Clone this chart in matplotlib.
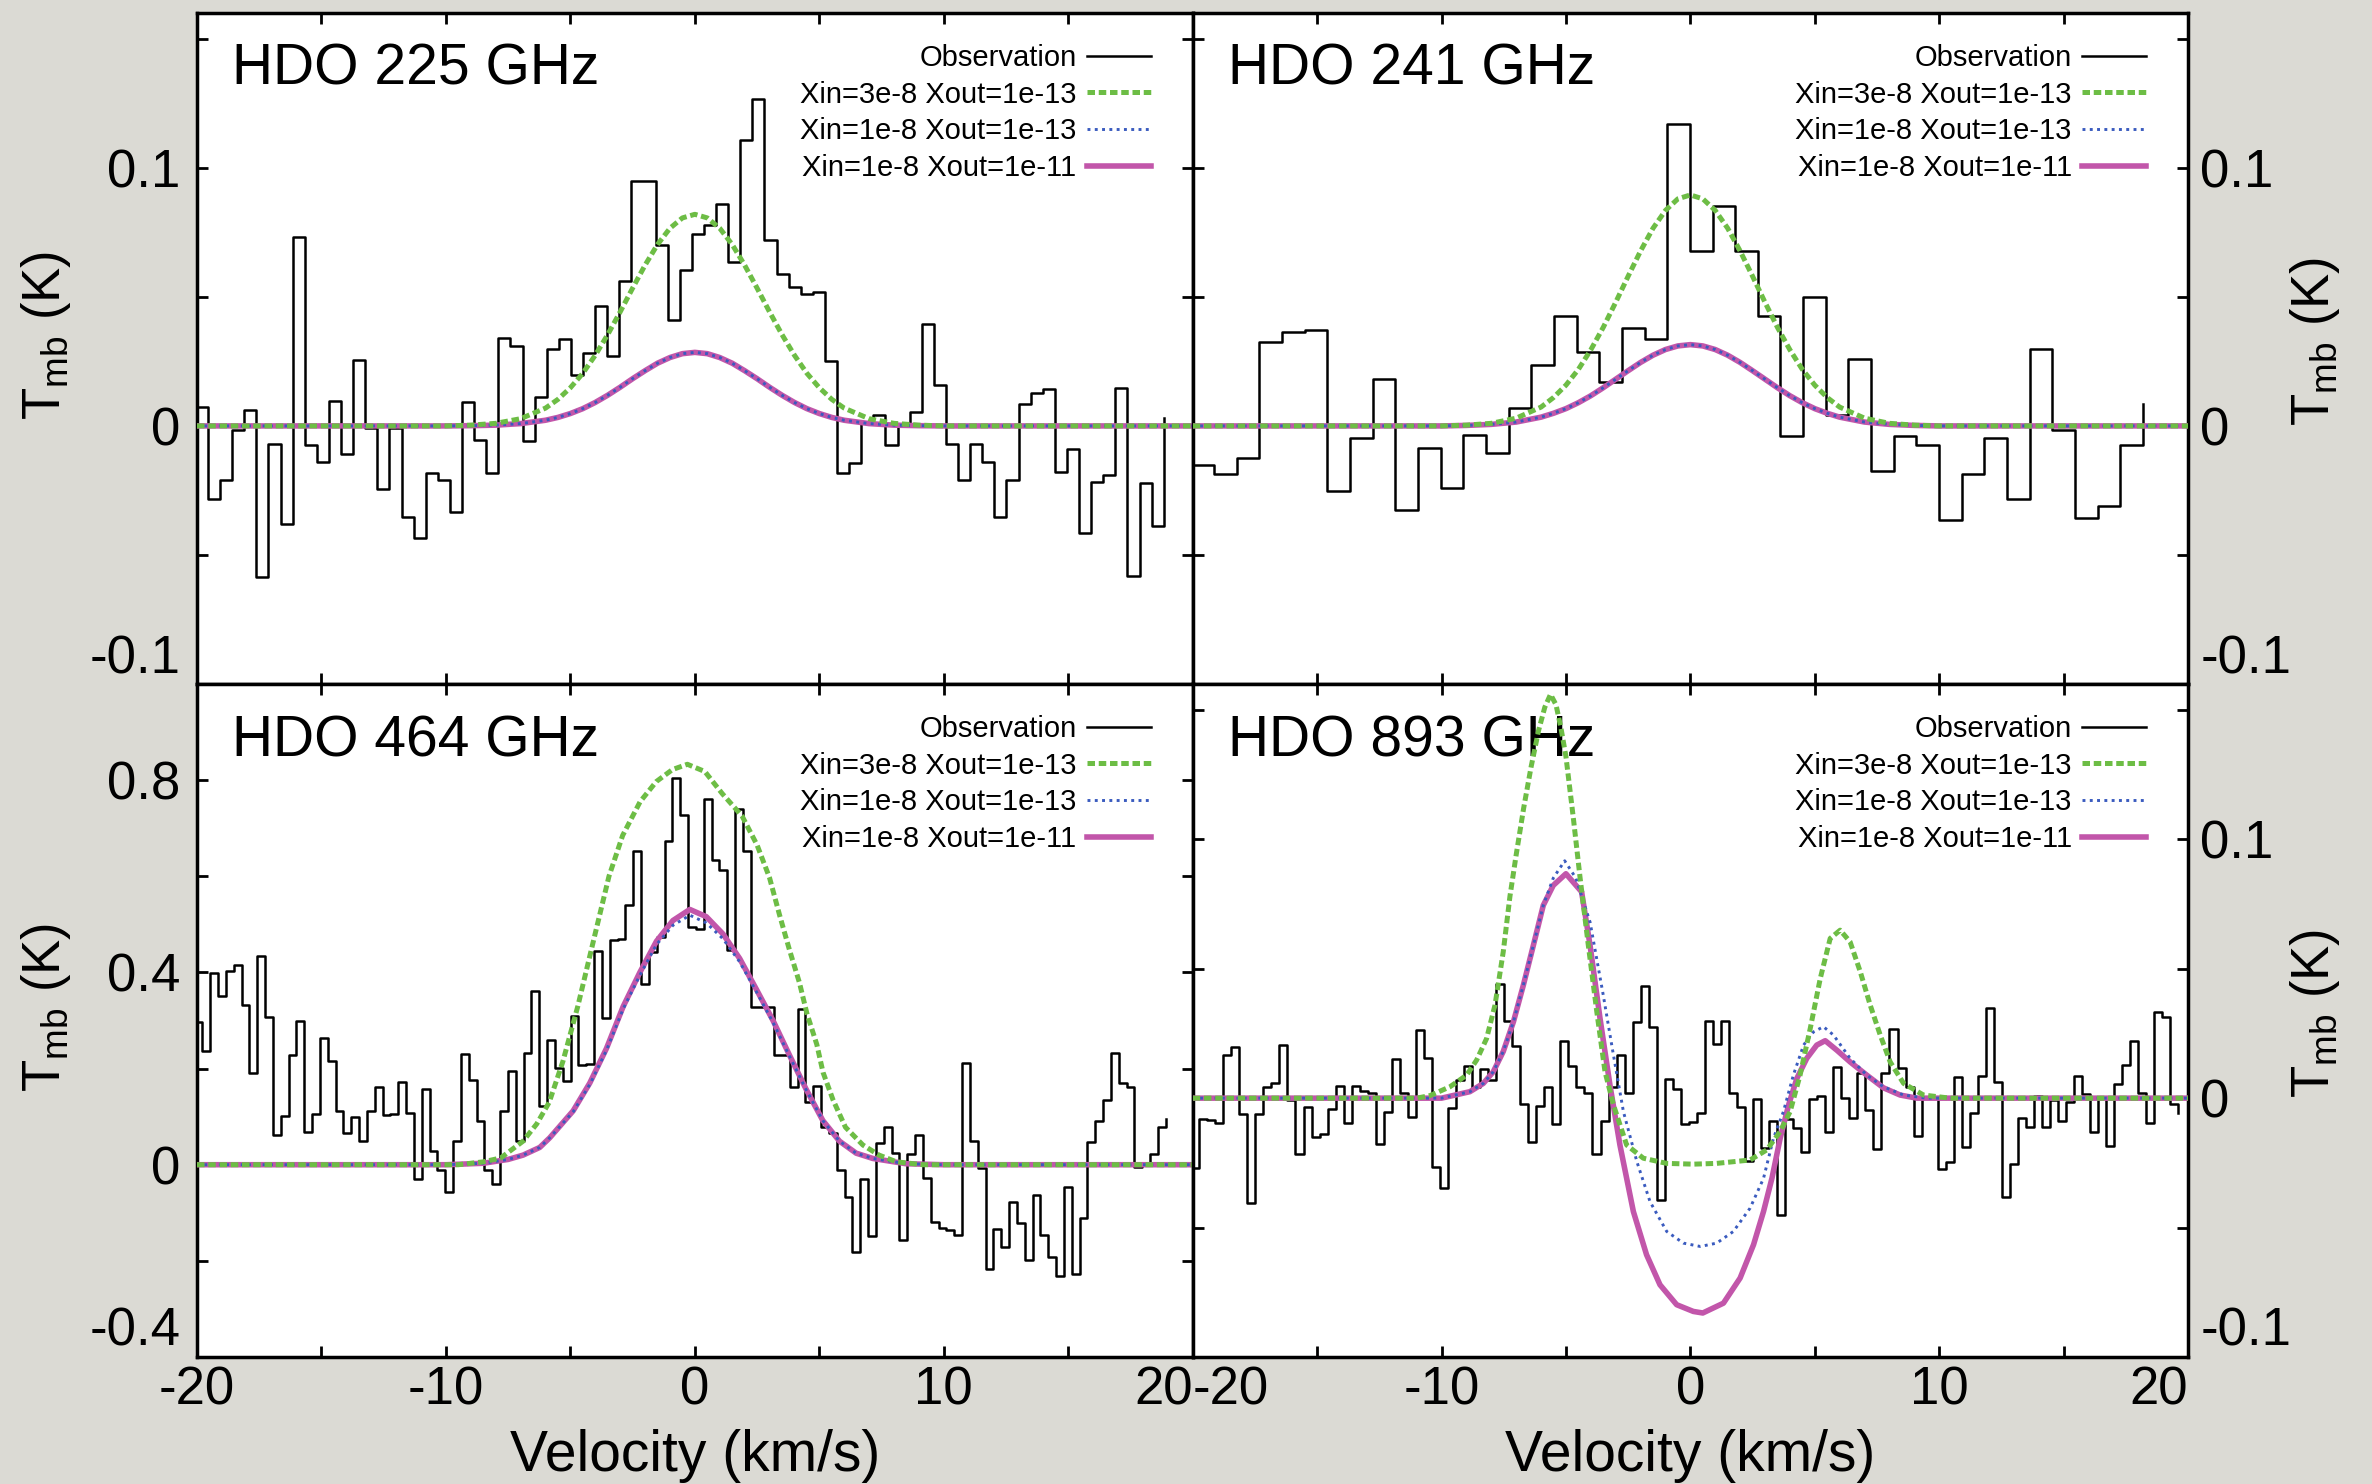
import numpy as np
import matplotlib
matplotlib.use("Agg")
import matplotlib.pyplot as plt

# fonts: Helvetica-like, plain hyphen for minus signs
plt.rcParams['font.family'] = ['Liberation Sans', 'DejaVu Sans']
plt.rcParams['mathtext.default'] = 'regular'
plt.rcParams['axes.unicode_minus'] = False

# ------------------------------------------------------------------
# observed spectra (K), one value per channel.
# the last value of each list is where the final step line ends.
# ------------------------------------------------------------------
obs_225 = [0.0074, -0.0282, -0.0210, -0.0017, 0.0061, -0.0585, -0.0069, -0.0380, 0.0731, -0.0072,
           -0.0138, 0.0097, -0.0108, 0.0257, -0.0008, -0.0243, -0.0008, -0.0352, -0.0435, -0.0183,
           -0.0209, -0.0333, 0.0094, -0.0054, -0.0183, 0.0339, 0.0309, -0.0060, 0.0114, 0.0300,
           0.0336, 0.0198, 0.0283, 0.0466, 0.0270, 0.0560, 0.0949, 0.0949, 0.0701, 0.0411,
           0.0606, 0.0743, 0.0780, 0.0858, 0.0636, 0.1108, 0.1266, 0.0721, 0.0587, 0.0540,
           0.0511, 0.0520, 0.0250, -0.0183, -0.0144, 0.0010, 0.0042, -0.0072, 0.0000, 0.0055,
           0.0394, 0.0157, -0.0069, -0.0210, -0.0069, -0.0141, -0.0352, -0.0209, 0.0085, 0.0127,
           0.0144, -0.0180, -0.0091, -0.0415, -0.0217, -0.0189, 0.0146, -0.0581, -0.0222, -0.0386,
           0.0030]

obs_241 = [-0.0153, -0.0188, -0.0124, 0.0324, 0.0363, 0.0373, -0.0252, -0.0046, 0.0182, -0.0324,
           -0.0085, -0.0239, -0.0034, -0.0106, 0.0068, 0.0235, 0.0426, 0.0285, 0.0170, 0.0380,
           0.0338, 0.1168, 0.0678, 0.0852, 0.0677, 0.0426, -0.0038, 0.0498, 0.0043, 0.0261,
           -0.0174, -0.0039, -0.0073, -0.0363, -0.0188, -0.0048, -0.0285, 0.0298, -0.0017, -0.0355,
           -0.0310, -0.0072, 0.0085]

obs_464 = [0.297, 0.236, 0.399, 0.350, 0.404, 0.415, 0.332, 0.191, 0.435, 0.307,
           0.061, 0.101, 0.228, 0.298, 0.069, 0.106, 0.264, 0.215, 0.112, 0.065,
           0.099, 0.049, 0.112, 0.162, 0.103, 0.106, 0.173, 0.108, -0.030, 0.158,
           0.029, -0.011, -0.057, 0.050, 0.230, 0.176, 0.090, -0.011, -0.041, 0.112,
           0.194, 0.049, 0.232, 0.361, 0.122, 0.259, 0.202, 0.175, 0.309, 0.208,
           0.210, 0.444, 0.306, 0.467, 0.469, 0.541, 0.653, 0.376, 0.442, 0.473,
           0.674, 0.805, 0.727, 0.494, 0.490, 0.760, 0.633, 0.614, 0.447, 0.740,
           0.652, 0.329, 0.328, 0.328, 0.228, 0.228, 0.162, 0.323, 0.131, 0.164,
           0.078, 0.067, -0.011, -0.068, -0.182, -0.030, -0.149, 0.045, 0.078, 0.025,
           -0.157, 0.022, 0.061, -0.028, -0.120, -0.131, -0.136, -0.147, 0.212, 0.050,
           -0.007, -0.217, -0.134, -0.172, -0.077, -0.121, -0.199, -0.062, -0.147, -0.191,
           -0.232, -0.047, -0.227, -0.111, 0.047, 0.090, 0.134, 0.233, 0.169, 0.162,
           -0.005, 0.002, 0.022, 0.078,
           0.096]

obs_893 = [-0.0271, -0.0080, -0.0084, -0.0097, 0.0166, 0.0199, -0.0061, -0.0406, -0.0061, 0.0044,
           0.0057, 0.0205, -0.0007, -0.0217, -0.0036, -0.0149, -0.0138, -0.0043, 0.0047, -0.0095,
           0.0047, 0.0029, 0.0019, -0.0178, -0.0052, 0.0151, 0.0019, -0.0074, 0.0265, 0.0154,
           -0.0267, -0.0348, -0.0039, 0.0070, 0.0125, 0.0044, 0.0111, 0.0070, 0.0440, 0.0298,
           0.0202, -0.0023, -0.0168, -0.0030, 0.0044, -0.0100, 0.0222, 0.0125, 0.0044, 0.0021,
           -0.0217, -0.0087, 0.0042, 0.0166, 0.0021, 0.0295, 0.0432, 0.0273, -0.0393, 0.0073,
           0.0034, -0.0100, -0.0091, -0.0056, 0.0298, 0.0211, 0.0298, 0.0019, -0.0033, -0.0243,
           -0.0005, -0.0191, -0.0088, -0.0451, -0.0082, -0.0114, -0.0209, -0.0005, 0.0010, -0.0129,
           0.0119, -0.0001, -0.0078, 0.0098, -0.0046, -0.0196, 0.0098, 0.0267, 0.0117, 0.0042,
           -0.0148, -0.0001, -0.0001, -0.0275, -0.0245, 0.0083, -0.0187, -0.0056, 0.0087, 0.0350,
           0.0061, -0.0383, -0.0256, -0.0078, -0.0110, 0.0008, -0.0112, -0.0007, -0.0088, -0.0016,
           0.0085, 0.0015, -0.0132, 0.0003, -0.0183, 0.0053, 0.0128, 0.0220, 0.0021, -0.0097,
           0.0331, 0.0314, -0.0024,
           -0.0059]

# channel grid of each spectrum: (left edge of first full channel, channel width) in km/s
chan_225 = (-19.558, 0.486)
chan_241 = (-19.14, 0.9105)
chan_464 = (-19.78, 0.3146)
chan_893 = (-19.74, 0.3226)

# ------------------------------------------------------------------
# model spectra
# ------------------------------------------------------------------
v_model = [-20, -10, -9, -8, -7, -6, -5.5, -5, -4.5, -4, -3.5, -3, -2.5, -2, -1.5, -1, -0.5, 0,
           0.5, 1, 1.5, 2, 2.5, 3, 3.5, 4, 4.5, 5, 5.5, 6, 7, 8, 9, 10, 20]

green_225 = [0, 0, 0.0003, 0.001, 0.0028, 0.0069, 0.0103, 0.0148, 0.0204, 0.0274, 0.0354, 0.0442,
             0.0534, 0.0623, 0.0703, 0.0766, 0.0806, 0.082, 0.0806, 0.0766, 0.0703, 0.0623, 0.0534,
             0.0442, 0.0354, 0.0274, 0.0204, 0.0148, 0.0103, 0.0069, 0.0028, 0.001, 0.0003, 0, 0]
magenta_225 = [0, 0, 0.0001, 0.0003, 0.0009, 0.0022, 0.0033, 0.0048, 0.0067, 0.0091, 0.0119, 0.0150,
               0.0183, 0.0214, 0.0243, 0.0265, 0.0280, 0.0285, 0.0280, 0.0265, 0.0243, 0.0214, 0.0183,
               0.0150, 0.0119, 0.0091, 0.0067, 0.0048, 0.0033, 0.0022, 0.0009, 0.0003, 0.0001, 0, 0]
blue_225 = list(magenta_225)   # dotted model lies on top of the solid one

green_241 = [0, 0, 0.0003, 0.001, 0.003, 0.0073, 0.011, 0.0158, 0.0219, 0.0295, 0.0382, 0.0479,
             0.058, 0.0678, 0.0766, 0.0835, 0.088, 0.0895, 0.088, 0.0835, 0.0766, 0.0678, 0.058,
             0.0479, 0.0382, 0.0295, 0.0219, 0.0158, 0.011, 0.0073, 0.003, 0.001, 0.0003, 0, 0]
magenta_241 = [0, 0, 0.0002, 0.0006, 0.0015, 0.0034, 0.0049, 0.0067, 0.0090, 0.0117, 0.0148, 0.0181,
               0.0214, 0.0246, 0.0274, 0.0296, 0.0310, 0.0315, 0.0310, 0.0296, 0.0274, 0.0246, 0.0214,
               0.0181, 0.0148, 0.0117, 0.0090, 0.0067, 0.0049, 0.0034, 0.0015, 0.0006, 0.0002, 0, 0]
blue_241 = list(magenta_241)

v_green_464 = [-20, -9.5, -8.5, -7.8, -6.9, -6.35, -5.85, -5.3, -4.7, -4.1, -3.45, -2.9, -2.2, -1.55,
               -0.9, -0.3, 0.4, 1.1, 1.9, 2.5, 3.0, 3.4, 3.8, 4.2, 4.5, 4.9, 5.15, 5.55, 6.05, 6.75,
               7.4, 8.1, 9.15, 20]
green_464 = [0, 0, 0.006, 0.014, 0.049, 0.085, 0.13, 0.215, 0.33, 0.46, 0.6, 0.685, 0.755, 0.797,
             0.822, 0.833, 0.818, 0.772, 0.725, 0.665, 0.597, 0.52, 0.447, 0.379, 0.315, 0.25, 0.192,
             0.135, 0.078, 0.041, 0.02, 0.006, 0, 0]
v_mod_464 = [-20, -10, -8.5, -7.5, -6.9, -6.23, -5.83, -4.89, -4.22, -3.55, -2.88, -2.21, -1.54, -0.88,
             -0.2, 0.46, 1.13, 1.8, 2.47, 3.14, 3.8, 4.47, 5.14, 5.81, 6.48, 7.15, 8.49, 10, 20]
magenta_464 = [0, 0, 0.003, 0.011, 0.020, 0.036, 0.056, 0.112, 0.170, 0.242, 0.329, 0.400, 0.465, 0.508,
               0.531, 0.516, 0.480, 0.429, 0.365, 0.300, 0.228, 0.157, 0.092, 0.049, 0.024, 0.013, 0.002, 0, 0]
blue_464 = [0, 0, 0.003, 0.011, 0.020, 0.036, 0.056, 0.110, 0.167, 0.238, 0.324, 0.394, 0.458, 0.498,
            0.519, 0.503, 0.470, 0.422, 0.360, 0.296, 0.226, 0.156, 0.092, 0.049, 0.024, 0.013, 0.002, 0, 0]

v_green_893 = [-20, -11, -10.46, -9.66, -8.99, -8.59, -8.19, -7.85, -7.52, -7.25, -7.0, -6.7, -6.4, -6.1,
               -5.85, -5.62, -5.4, -5.2, -5.0, -4.7, -4.43, -4.1, -3.76, -3.43, -3.09, -2.56, -1.89, -0.95,
               0.12, 1.06, 2.4, 3.07, 3.61, 4.01, 4.41, 4.82, 5.22, 5.62, 6.02, 6.42, 6.83, 7.23, 7.63,
               8.03, 8.57, 9.37, 10.44, 20]
green_893 = [0, 0, 0.001, 0.0044, 0.0089, 0.0147, 0.023, 0.036, 0.0565, 0.078, 0.094, 0.112, 0.128, 0.142,
             0.151, 0.156, 0.152, 0.143, 0.132, 0.108, 0.085, 0.059, 0.0334, 0.0102, -0.0026, -0.0181,
             -0.0232, -0.0252, -0.0255, -0.0252, -0.0239, -0.020, -0.0129, -0.0052, 0.0089, 0.027, 0.0462,
             0.0617, 0.0649, 0.0604, 0.0488, 0.0359, 0.0244, 0.014, 0.0057, 0.0012, 0, 0]
v_blue_893 = [-20, -10, -8.86, -8.32, -7.92, -7.52, -7.11, -6.71, -6.31, -5.91, -5.51, -5.05, -4.6, -4.03,
              -3.5, -3.09, -2.69, -2.15, -1.62, -0.95, -0.28, 0.4, 1.06, 1.73, 2.4, 2.94, 3.34, 3.74, 4.14,
              4.55, 4.95, 5.35, 5.75, 6.42, 7.09, 7.76, 8.57, 9.5, 20]
blue_893 = [0, 0, 0.0025, 0.0057, 0.0102, 0.018, 0.0295, 0.0437, 0.059, 0.0745, 0.085, 0.0917, 0.085, 0.068,
            0.0398, 0.0166, -0.0052, -0.0245, -0.040, -0.0515, -0.056, -0.0573, -0.056, -0.0515, -0.0425,
            -0.031, -0.0155, -0.0052, 0.0089, 0.0205, 0.0256, 0.0276, 0.0244, 0.0154, 0.0089, 0.0044,
            0.0012, 0, 0]
v_magenta_893 = [-20, -10, -8.86, -8.32, -7.92, -7.52, -7.11, -6.71, -6.31, -5.91, -5.51, -5.0, -4.37, -4.03,
                 -3.63, -3.23, -2.83, -2.29, -1.76, -1.22, -0.55, 0.12, 0.5, 1.33, 2.0, 2.54, 2.94, 3.28,
                 3.61, 3.95, 4.28, 4.68, 5.08, 5.42, 5.89, 6.42, 7.09, 7.76, 8.43, 9.1, 20]
magenta_893 = [0, 0, 0.0025, 0.0057, 0.0102, 0.018, 0.0295, 0.0437, 0.059, 0.0745, 0.0822, 0.0867, 0.0797,
               0.059, 0.0308, 0.005, -0.0181, -0.0438, -0.0605, -0.0721, -0.0798, -0.0824, -0.083, -0.0792,
               -0.0695, -0.0566, -0.0438, -0.0309, -0.0155, -0.0026, 0.0076, 0.0154, 0.0205, 0.0222, 0.0185,
               0.014, 0.0089, 0.004, 0.0012, 0, 0]

legend_labels = ['Observation', 'Xin=3e-8 Xout=1e-13', 'Xin=1e-8 Xout=1e-13', 'Xin=1e-8 Xout=1e-11']

GREEN = '#6dbd45'
BLUE = '#3a5bbf'
MAGENTA = '#c256aa'


def draw_panel(ax, title, chan, obs, green, blue, magenta, ylim, yticks, ylabels, side, show_x):
    # channel left edges; first one falls just outside -20
    vel = chan[0] + chan[1] * (np.arange(len(obs)) - 1)
    h_obs, = ax.step(vel, obs, where='post', color='black', lw=1.8, zorder=2)
    h_mag, = ax.plot(magenta[0], magenta[1], color=MAGENTA, lw=4.0, zorder=3)
    h_blue, = ax.plot(blue[0], blue[1], color=BLUE, lw=2.1, ls=(0, (1.0, 1.5)), zorder=4)
    h_green, = ax.plot(green[0], green[1], color=GREEN, lw=3.6, ls=(0, (1.5, 0.75)), zorder=5)

    ax.set_xlim(-20, 20)
    ax.set_ylim(*ylim)
    ax.set_xticks(np.arange(-20, 21, 5))
    ax.set_xticklabels(['-20', '', '-10', '', '0', '', '10', '', '20'])
    ax.set_yticks(yticks)
    ax.set_yticklabels(ylabels)

    ax.tick_params(direction='in', length=8, width=2, top=True, bottom=True,
                   left=True, right=True, labelsize=38)
    ax.tick_params(axis='x', pad=6, labelbottom=show_x)
    if side == 'left':
        ax.tick_params(axis='y', pad=12, labelleft=True, labelright=False)
    else:
        ax.tick_params(axis='y', pad=9, labelleft=False, labelright=True)
    for s in ax.spines.values():
        s.set_linewidth(2.5)

    # lowest y label sits above the bottom border
    ax.get_yticklabels()[0].set_verticalalignment('bottom')
    if show_x:
        xl = ax.get_xticklabels()
        if side == 'left':
            xl[-1].set_horizontalalignment('right')
        else:
            xl[0].set_horizontalalignment('left')
            xl[-1].set_horizontalalignment('right')
        ax.set_xlabel('Velocity (km/s)', fontsize=41)
        ax.xaxis.set_label_coords(0.5, -0.107)

    ax.set_ylabel(r'T$_{mb}$ (K)', fontsize=38)
    if side == 'left':
        ax.yaxis.set_label_coords(-0.125, 0.52)
    else:
        ax.yaxis.set_label_position('right')
        ax.yaxis.set_label_coords(1.10, 0.51)

    ax.text(0.035, 0.893, title, transform=ax.transAxes, fontsize=41, va='baseline')
    ax.legend([h_obs, h_green, h_blue, h_mag], legend_labels, loc='upper right',
              bbox_to_anchor=(0.958, 0.954), frameon=False, markerfirst=False, fontsize=21,
              handlelength=2.2, handletextpad=0.35, labelspacing=0.3, borderpad=0,
              borderaxespad=0)


fig = plt.figure(figsize=(23.72, 14.84), dpi=100, facecolor='#dbdad4')

L, M, R = 197 / 2372, 1192.7 / 2372, 2188 / 2372
T, C, B = 1 - 13 / 1484, 1 - 684 / 1484, 1 - 1357 / 1484

ax1 = fig.add_axes([L, C, M - L, T - C])
ax2 = fig.add_axes([M, C, R - M, T - C])
ax3 = fig.add_axes([L, B, M - L, C - B])
ax4 = fig.add_axes([M, B, R - M, C - B])

small_ticks = [-0.1, -0.05, 0, 0.05, 0.1, 0.15]
small_labels = ['-0.1', '', '0', '', '0.1', '']

draw_panel(ax1, 'HDO 225 GHz', chan_225, obs_225, (v_model, green_225), (v_model, blue_225),
           (v_model, magenta_225), (-0.1, 0.16), small_ticks, small_labels, 'left', False)
draw_panel(ax2, 'HDO 241 GHz', chan_241, obs_241, (v_model, green_241), (v_model, blue_241),
           (v_model, magenta_241), (-0.1, 0.16), small_ticks, small_labels, 'right', False)
draw_panel(ax3, 'HDO 464 GHz', chan_464, obs_464, (v_green_464, green_464), (v_mod_464, blue_464),
           (v_mod_464, magenta_464), (-0.4, 1.0), [-0.4, -0.2, 0, 0.2, 0.4, 0.6, 0.8, 1.0],
           ['-0.4', '', '0', '', '0.4', '', '0.8', ''], 'left', True)
draw_panel(ax4, 'HDO 893 GHz', chan_893, obs_893, (v_green_893, green_893), (v_blue_893, blue_893),
           (v_magenta_893, magenta_893), (-0.1, 0.16), small_ticks, small_labels, 'right', True)

fig.savefig('out.png', dpi=100, facecolor=fig.get_facecolor())
